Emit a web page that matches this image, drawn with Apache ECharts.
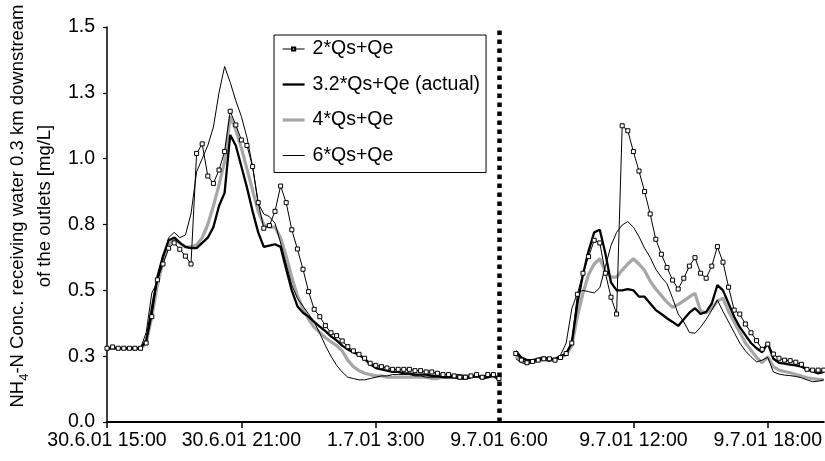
<!DOCTYPE html>
<html>
<head>
<meta charset="utf-8">
<script src="https://cdn.jsdelivr.net/npm/echarts@6/dist/echarts.min.js"></script>
<style>
html,body{margin:0;padding:0;background:#fff;}
#chart{width:825px;height:461px;}
</style>
</head>
<body>
<div id="chart"></div>
<script>
// ---- Data ----
const seriesNames = ['2*Qs+Qe', '3.2*Qs+Qe (actual)', '4*Qs+Qe', '6*Qs+Qe'];
const tickLabels = ['30.6.01 15:00', '30.6.01 21:00', '1.7.01 3:00', '9.7.01 6:00', '9.7.01 12:00', '9.7.01 18:00'];
const breakLabel = '9.7.01 6:00';
const leftCount = 70;      // 15-min samples from 30.6.01 15:00 before the break
const rightCount = 59;     // 15-min samples from 9.7.01 6:00
const rightDataOffset = 3; // first right-hand sample (9.7.01 6:45)

// Event 1 (30.6.01 15:00 ...), 15-min steps
const qs2Left = [0.28,0.285,0.28,0.28,0.28,0.28,0.28,0.30,0.40,0.54,0.60,0.66,0.68,0.656,0.63,0.60,1.02,1.056,0.934,0.906,0.957,1.027,1.18,1.128,1.071,1.05,0.97,0.833,0.736,0.746,0.80,0.896,0.833,0.73,0.657,0.58,0.495,0.428,0.40,0.366,0.339,0.328,0.308,0.286,0.27,0.257,0.242,0.223,0.215,0.21,0.205,0.20,0.20,0.20,0.20,0.195,0.195,0.19,0.19,0.185,0.18,0.18,0.175,0.17,0.17,0.175,0.18,0.17,0.18,0.18,0.165];
const qs32Left = [0.28,0.28,0.28,0.28,0.28,0.28,0.28,0.31,0.43,0.55,0.63,0.69,0.70,0.68,0.665,0.66,0.66,0.68,0.70,0.74,0.82,0.87,1.09,1.05,0.97,0.89,0.80,0.72,0.665,0.67,0.675,0.665,0.58,0.50,0.44,0.415,0.40,0.38,0.362,0.345,0.325,0.31,0.29,0.275,0.265,0.255,0.24,0.22,0.205,0.20,0.195,0.19,0.19,0.185,0.185,0.18,0.18,0.18,0.175,0.175,0.17,0.17,0.17,0.165,0.165,0.17,0.175,0.165,0.17,0.175,0.16];
const qs4Left = [0.28,0.28,0.28,0.28,0.28,0.28,0.28,0.30,0.40,0.52,0.61,0.67,0.70,0.68,0.665,0.665,0.672,0.70,0.75,0.82,0.90,0.99,1.16,1.11,1.04,0.96,0.88,0.80,0.75,0.74,0.74,0.70,0.63,0.55,0.48,0.43,0.39,0.36,0.34,0.32,0.305,0.29,0.27,0.235,0.21,0.195,0.185,0.18,0.175,0.175,0.17,0.17,0.17,0.17,0.17,0.17,0.17,0.17,0.165,0.165,0.17,0.17,0.17,0.175,0.175,0.175,0.175,0.17,0.17,0.175,0.17];
const qs6Left = [0.28,0.28,0.28,0.28,0.275,0.275,0.28,0.34,0.49,0.53,0.62,0.70,0.72,0.70,0.71,0.79,0.95,1.00,1.05,1.12,1.25,1.35,1.29,1.22,1.16,1.08,0.97,0.83,0.79,0.78,0.755,0.68,0.60,0.52,0.47,0.44,0.41,0.38,0.337,0.29,0.25,0.215,0.19,0.17,0.165,0.16,0.16,0.165,0.17,0.175,0.175,0.18,0.18,0.18,0.18,0.175,0.175,0.17,0.17,0.17,0.17,0.175,0.18,0.18,0.175,0.17,0.17,0.175,0.18,0.175,0.17];

// Event 2 (9.7.01 from 6:45), 15-min steps
const qs2Right = [0.26,0.235,0.225,0.23,0.235,0.24,0.24,0.235,0.245,0.26,0.30,0.485,0.565,0.628,0.69,0.68,0.565,0.474,0.41,1.125,1.106,1.027,0.953,0.875,0.79,0.694,0.637,0.587,0.539,0.505,0.546,0.592,0.624,0.565,0.546,0.592,0.666,0.607,0.512,0.425,0.41,0.372,0.339,0.309,0.276,0.296,0.258,0.242,0.235,0.233,0.227,0.219,0.20,0.197,0.197,0.197];
const qs32Right = [0.27,0.245,0.235,0.235,0.24,0.245,0.24,0.24,0.25,0.26,0.30,0.45,0.56,0.65,0.72,0.73,0.64,0.53,0.50,0.50,0.505,0.50,0.476,0.476,0.45,0.425,0.41,0.394,0.38,0.365,0.39,0.415,0.432,0.41,0.418,0.45,0.52,0.50,0.45,0.40,0.36,0.33,0.30,0.28,0.265,0.30,0.24,0.225,0.222,0.218,0.215,0.21,0.20,0.192,0.185,0.19];
const qs4Right = [0.25,0.235,0.23,0.23,0.235,0.24,0.235,0.235,0.245,0.255,0.29,0.40,0.49,0.56,0.60,0.62,0.57,0.55,0.55,0.577,0.60,0.62,0.60,0.575,0.535,0.505,0.48,0.455,0.435,0.447,0.46,0.475,0.489,0.42,0.415,0.43,0.46,0.47,0.42,0.38,0.34,0.30,0.273,0.245,0.225,0.248,0.21,0.197,0.192,0.187,0.18,0.175,0.168,0.165,0.162,0.16];
const qs6Right = [0.24,0.225,0.22,0.225,0.23,0.235,0.23,0.24,0.255,0.30,0.43,0.49,0.50,0.495,0.49,0.51,0.59,0.67,0.72,0.748,0.761,0.74,0.704,0.66,0.625,0.58,0.55,0.525,0.47,0.41,0.38,0.34,0.337,0.36,0.39,0.425,0.463,0.42,0.38,0.34,0.30,0.27,0.248,0.228,0.235,0.245,0.19,0.182,0.178,0.176,0.173,0.168,0.16,0.153,0.155,0.16];

// ---- Categories (15-min time stamps, broken axis) ----
function fmt(ms) {
  const d = new Date(ms);
  return d.getUTCDate() + '.' + (d.getUTCMonth() + 1) + '.01 ' + d.getUTCHours() + ':' + String(d.getUTCMinutes()).padStart(2, '0');
}
const categories = [];
const leftStart = Date.UTC(2001, 5, 30, 15, 0);
const rightStart = Date.UTC(2001, 6, 9, 6, 0);
for (let i = 0; i < leftCount; i++) categories.push(fmt(leftStart + i * 900000));
for (let k = 0; k < rightCount; k++) categories.push(fmt(rightStart + k * 900000));
const breakIndex = leftCount;

function combine(left, right) {
  const out = new Array(categories.length).fill(null);
  left.forEach((v, i) => { out[i] = v; });
  right.forEach((v, j) => { out[breakIndex + rightDataOffset + j] = v; });
  return out;
}

const FONT = '"Liberation Sans", Arial, Helvetica, sans-serif';

const chart = echarts.init(document.getElementById('chart'), null, { renderer: 'canvas' });
chart.setOption({
  animation: false,
  backgroundColor: '#fff',
  textStyle: { fontFamily: FONT, color: '#000' },
  grid: { left: 107, right: 0, top: 27, bottom: 39, containLabel: false },
  legend: {
    orient: 'vertical',
    left: 274, top: 35,
    data: [
      { name: seriesNames[0], lineStyle: { width: 1 } },
      { name: seriesNames[1], itemStyle: { opacity: 0 }, lineStyle: { width: 2.3 } },
      { name: seriesNames[2], itemStyle: { opacity: 0 }, lineStyle: { width: 3.2 } },
      { name: seriesNames[3], itemStyle: { opacity: 0 }, lineStyle: { width: 1 } }
    ],
    selectedMode: false,
    backgroundColor: '#fff',
    borderColor: '#000', borderWidth: 1, borderRadius: 0,
    padding: [4, 6, 7, 7],
    itemGap: 15.5,
    itemWidth: 22, itemHeight: 4,
    textStyle: { fontSize: 19.5, color: '#000', fontFamily: FONT, padding: [0, 0, 0, 3] }
  },
  xAxis: {
    type: 'category',
    data: categories,
    boundaryGap: false,
    axisLine: { lineStyle: { color: '#000', width: 2 } },
    axisTick: {
      show: true, length: 6, lineStyle: { color: '#000', width: 1.5 },
      interval: (idx, val) => tickLabels.indexOf(val) >= 0 && val !== breakLabel
    },
    axisLabel: {
      interval: (idx, val) => tickLabels.indexOf(val) >= 0,
      fontSize: 19.5, color: '#000', fontFamily: FONT, margin: 9
    },
    splitLine: { show: false }
  },
  yAxis: {
    type: 'value',
    min: 0, max: 1.5, interval: 0.25,
    axisLine: { show: true, lineStyle: { color: '#000', width: 1.5 } },
    axisTick: { show: true, length: 4, lineStyle: { color: '#000', width: 1.2 } },
    axisLabel: {
      fontSize: 19.5, color: '#000', fontFamily: FONT, margin: 12,
      formatter: v => v.toFixed(1)
    },
    splitLine: { show: false }
  },
  graphic: [{
    type: 'text',
    x: 31, y: 206,
    rotation: Math.PI / 2,
    style: {
      text: '{n|NH}{s|4}{n|-N Conc. receiving water 0.3 km downstream}\n{n|of the outlets [mg/L]}',
      align: 'center', verticalAlign: 'middle',
      fill: '#000',
      rich: {
        n: { fontSize: 18.5, fontFamily: FONT, lineHeight: 27, fill: '#000' },
        s: { fontSize: 13, fontFamily: FONT, lineHeight: 18, verticalAlign: 'bottom', fill: '#000' }
      }
    }
  }],
  series: [
    {
      name: seriesNames[0], type: 'line', z: 4,
      data: combine(qs2Left, qs2Right),
      symbol: 'rect', symbolSize: 4, showSymbol: true, showAllSymbol: true,
      itemStyle: { color: '#fff', borderColor: '#000', borderWidth: 1 },
      lineStyle: { color: '#000', width: 1 },
      markLine: {
        silent: true, symbol: ['none', 'none'],
        label: { show: false },
        lineStyle: { color: '#000', width: 4.5, type: [4.5, 4.5] },
        data: [{ xAxis: breakIndex }]
      }
    },
    {
      name: seriesNames[1], type: 'line', z: 3,
      data: combine(qs32Left, qs32Right),
      symbol: 'none',
      itemStyle: { color: '#000' },
      lineStyle: { color: '#000', width: 2.3 }
    },
    {
      name: seriesNames[2], type: 'line', z: 2,
      data: combine(qs4Left, qs4Right),
      symbol: 'none',
      itemStyle: { color: '#a6a6a6' },
      lineStyle: { color: '#a6a6a6', width: 3.2 }
    },
    {
      name: seriesNames[3], type: 'line', z: 3,
      data: combine(qs6Left, qs6Right),
      symbol: 'none',
      itemStyle: { color: '#000' },
      lineStyle: { color: '#000', width: 1 }
    }
  ]
});
</script>
</body>
</html>
